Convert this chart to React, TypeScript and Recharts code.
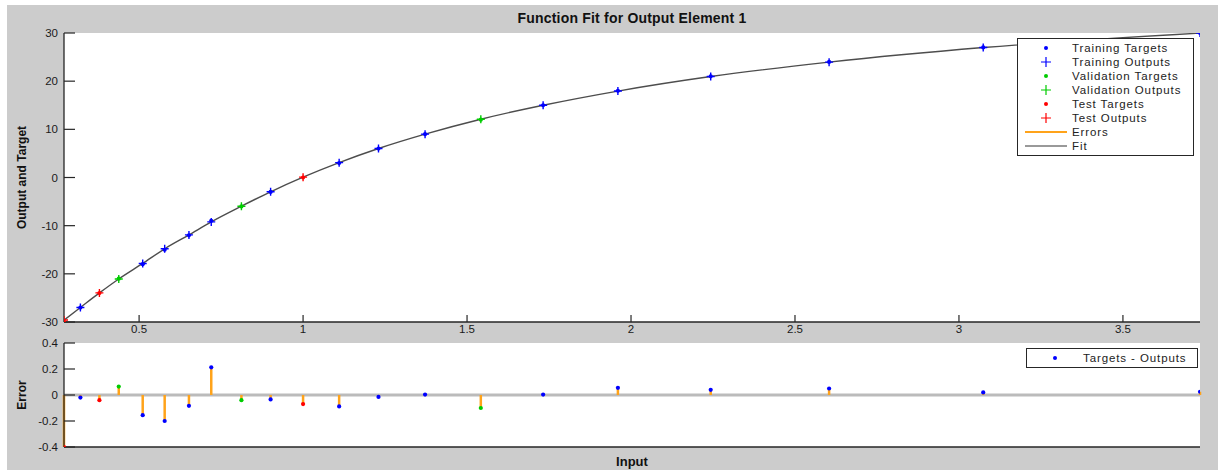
import { ComposedChart, Line, Scatter, XAxis, YAxis, ReferenceLine, Legend } from "recharts";

const inputs = [0.271, 0.321, 0.379, 0.438, 0.511, 0.578, 0.652, 0.72, 0.812, 0.901, 1.0, 1.11, 1.23, 1.372, 1.542, 1.732, 1.96, 2.243, 2.604, 3.074, 3.735];
const targets = [-30, -27, -24, -21, -18, -15, -12, -9, -6, -3, 0, 3, 6, 9, 12, 15, 18, 21, 24, 27, 30];
const errors = [-0.4, -0.02, -0.04, 0.065, -0.155, -0.2, -0.083, 0.213, -0.04, -0.034, -0.07, -0.088, -0.015, 0.003, -0.1, 0.003, 0.055, 0.04, 0.05, 0.02, 0.025];
const splits = ["test", "train", "test", "val", "train", "train", "train", "train", "val", "train", "test", "train", "train", "train", "val", "train", "train", "train", "train", "train", "train"];

const xTicks = [0.5, 1, 1.5, 2, 2.5, 3, 3.5];
const yTicksTop = [-30, -20, -10, 0, 10, 20, 30];
const yTicksErr = [-0.4, -0.2, 0, 0.2, 0.4];

const BLUE = "#0000ff";
const GREEN = "#00cc00";
const RED = "#ff0000";
const ORANGE = "#ffa31a";
const FIT = "#4d4d4d";
const FRAME = "#262626";
const FONT = "'Liberation Sans', Arial, sans-serif";

const SPLIT_COLOR: Record<string, string> = { train: BLUE, val: GREEN, test: RED };
const SPLIT_NAME: Record<string, string> = { train: "Training", val: "Validation", test: "Test" };

const rows = inputs.map((x, i) => ({
  x,
  target: targets[i],
  output: targets[i] - errors[i],
  error: errors[i],
  split: splits[i],
}));

const fitData = rows.map((r) => ({ x: r.x, y: r.output }));
const XDOM: [number, number] = [0.271, 3.735];

const tickStyle = { fontSize: 11.5, fill: "#1a1a1a", fontFamily: FONT };

const dotShape = (color: string) => (props: any) =>
  <circle cx={props.cx} cy={props.cy} r={2.1} fill={color} />;
const plusShape = (color: string) => (props: any) => {
  const { cx, cy } = props;
  return <path d={`M${cx - 4},${cy}H${cx + 4}M${cx},${cy - 4}V${cy + 4}`} stroke={color} strokeWidth={1.4} fill="none" />;
};

type LegendEntry = { label: string; kind: "dot" | "plus" | "line"; color: string };
const topLegend: LegendEntry[] = [
  { label: "Training Targets", kind: "dot", color: BLUE },
  { label: "Training Outputs", kind: "plus", color: BLUE },
  { label: "Validation Targets", kind: "dot", color: GREEN },
  { label: "Validation Outputs", kind: "plus", color: GREEN },
  { label: "Test Targets", kind: "dot", color: RED },
  { label: "Test Outputs", kind: "plus", color: RED },
  { label: "Errors", kind: "line", color: ORANGE },
  { label: "Fit", kind: "line", color: "#999999" },
];
const errLegend: LegendEntry[] = [{ label: "Targets - Outputs", kind: "dot", color: BLUE }];

function LegendBox({ entries, markerW, gap }: { entries: LegendEntry[]; markerW: number; gap: number }) {
  return (
    <div style={{ background: "#fff", border: `1.5px solid ${FRAME}`, padding: "2px 0", fontFamily: FONT, fontSize: 11.5, letterSpacing: 0.9, color: "#222", whiteSpace: "nowrap" }}>
      {entries.map((e) => (
        <div key={e.label} style={{ display: "flex", alignItems: "center", height: 14 }}>
          <svg width={markerW} height={14} style={{ marginLeft: 6, marginRight: gap }}>
            {e.kind === "dot" && <circle cx={markerW / 2} cy={7} r={2} fill={e.color} />}
            {e.kind === "plus" && <path d={`M${markerW / 2 - 5},7H${markerW / 2 + 5}M${markerW / 2},2V12`} stroke={e.color} strokeWidth={1.2} />}
            {e.kind === "line" && <line x1={1} x2={markerW - 1} y1={7} y2={7} stroke={e.color} strokeWidth={2.2} />}
          </svg>
          <span>{e.label}</span>
        </div>
      ))}
    </div>
  );
}

export default function App() {
  return (
    <div style={{ position: "absolute", left: 7, top: 5, width: 1211, height: 465, background: "#cccccc", fontFamily: FONT }}>
      <div style={{ position: "absolute", left: 57, width: 1136, top: 5, textAlign: "center", fontWeight: "bold", fontSize: 14, color: "#111", letterSpacing: 0.2 }}>
        Function Fit for Output Element 1
      </div>

      <div style={{ position: "absolute", left: 0, top: 0 }}>
        <ComposedChart width={1211} height={340} data={fitData} margin={{ top: 28, right: 18, bottom: 0, left: 0 }}>
          <rect x={57} y={28} width={1136} height={289} fill="#ffffff" />
          <XAxis
            dataKey="x"
            type="number"
            domain={XDOM}
            allowDataOverflow
            ticks={xTicks}
            interval={0}
            height={23}
            tickSize={-7}
            tickMargin={10}
            tick={tickStyle}
            axisLine={{ stroke: FRAME, strokeWidth: 1.3 }}
            tickLine={{ stroke: FRAME, strokeWidth: 1.2 }}
          />
          <XAxis
            xAxisId="top"
            orientation="top"
            type="number"
            domain={XDOM}
            allowDataOverflow
            ticks={xTicks}
            interval={0}
            height={0}
            tickSize={-7}
            tick={false}
            axisLine={{ stroke: FRAME, strokeWidth: 1.3 }}
            tickLine={{ stroke: FRAME, strokeWidth: 1.2 }}
          />
          <YAxis
            dataKey="y"
            type="number"
            domain={[-30, 30]}
            allowDataOverflow
            ticks={yTicksTop}
            interval={0}
            width={57}
            tickSize={-11}
            tickMargin={17}
            tick={tickStyle}
            axisLine={{ stroke: FRAME, strokeWidth: 1.3 }}
            tickLine={{ stroke: FRAME, strokeWidth: 1.2 }}
            label={{ value: "Output and Target", angle: -90, position: "insideLeft", offset: 15, style: { textAnchor: "middle", fontWeight: "bold", fontSize: 12, fill: "#111", fontFamily: FONT } }}
          />
          <YAxis
            yAxisId="right"
            orientation="right"
            type="number"
            domain={[-30, 30]}
            allowDataOverflow
            ticks={yTicksTop}
            interval={0}
            width={0}
            tickSize={-11}
            tick={false}
            axisLine={{ stroke: FRAME, strokeWidth: 1.3 }}
            tickLine={{ stroke: FRAME, strokeWidth: 1.2 }}
          />
          <Line dataKey="y" type="monotone" stroke={FIT} strokeWidth={1.4} dot={false} isAnimationActive={false} />
          {["train", "val", "test"].map((s) => (
            <Scatter
              key={"t" + s}
              name={`${SPLIT_NAME[s]} Targets`}
              dataKey="y"
              data={rows.filter((r) => r.split === s).map((r) => ({ x: r.x, y: r.target }))}
              shape={dotShape(SPLIT_COLOR[s])}
              isAnimationActive={false}
            />
          ))}
          {["train", "val", "test"].map((s) => (
            <Scatter
              key={"o" + s}
              name={`${SPLIT_NAME[s]} Outputs`}
              dataKey="y"
              data={rows.filter((r) => r.split === s).map((r) => ({ x: r.x, y: r.output }))}
              shape={plusShape(SPLIT_COLOR[s])}
              isAnimationActive={false}
            />
          ))}
          <Legend
            layout="horizontal"
            verticalAlign="middle"
            align="center"
            wrapperStyle={{ top: 33, left: 1010, width: 177 }}
            content={() => <LegendBox entries={topLegend} markerW={44} gap={4} />}
          />
        </ComposedChart>
      </div>

      <div style={{ position: "absolute", left: 0, top: 320 }}>
        <ComposedChart width={1211} height={145} margin={{ top: 18, right: 18, bottom: 0, left: 0 }}>
          <rect x={57} y={18} width={1136} height={104} fill="#ffffff" />
          <XAxis
            dataKey="x"
            type="number"
            domain={XDOM}
            allowDataOverflow
            ticks={xTicks}
            interval={0}
            height={23}
            tickSize={-7}
            tick={false}
            axisLine={{ stroke: FRAME, strokeWidth: 1.3 }}
            tickLine={{ stroke: FRAME, strokeWidth: 1.2 }}
            label={{ value: "Input", position: "insideBottom", offset: 4, style: { fontWeight: "bold", fontSize: 13, fill: "#111", fontFamily: FONT } }}
          />
          <XAxis
            xAxisId="top"
            orientation="top"
            type="number"
            domain={XDOM}
            allowDataOverflow
            ticks={xTicks}
            interval={0}
            height={0}
            tickSize={-7}
            tick={false}
            axisLine={{ stroke: FRAME, strokeWidth: 1.3 }}
            tickLine={{ stroke: FRAME, strokeWidth: 1.2 }}
          />
          <YAxis
            dataKey="y"
            type="number"
            domain={[-0.4, 0.4]}
            allowDataOverflow
            ticks={yTicksErr}
            interval={0}
            width={57}
            tickSize={-11}
            tickMargin={17}
            tick={tickStyle}
            axisLine={{ stroke: FRAME, strokeWidth: 1.3 }}
            tickLine={{ stroke: FRAME, strokeWidth: 1.2 }}
            label={{ value: "Error", angle: -90, position: "insideLeft", offset: 15, style: { textAnchor: "middle", fontWeight: "bold", fontSize: 12, fill: "#111", fontFamily: FONT } }}
          />
          <YAxis
            yAxisId="right"
            orientation="right"
            type="number"
            domain={[-0.4, 0.4]}
            allowDataOverflow
            ticks={yTicksErr}
            interval={0}
            width={0}
            tickSize={-11}
            tick={false}
            axisLine={{ stroke: FRAME, strokeWidth: 1.3 }}
            tickLine={{ stroke: FRAME, strokeWidth: 1.2 }}
          />
          <ReferenceLine y={0} stroke="#bbbbbb" strokeWidth={3} />
          {rows.map((r, i) => (
            <ReferenceLine
              key={"s" + i}
              segment={[{ x: r.x, y: 0 }, { x: r.x, y: r.error }]}
              stroke={ORANGE}
              strokeWidth={2.5}
            />
          ))}
          {["train", "val", "test"].map((s) => (
            <Scatter
              key={"e" + s}
              name="Targets - Outputs"
              dataKey="y"
              data={rows.filter((r) => r.split === s).map((r) => ({ x: r.x, y: r.error }))}
              shape={dotShape(SPLIT_COLOR[s])}
              isAnimationActive={false}
            />
          ))}
          <Legend
            layout="horizontal"
            verticalAlign="middle"
            align="center"
            wrapperStyle={{ top: 23, left: 1019, width: 172 }}
            content={() => <LegendBox entries={errLegend} markerW={44} gap={6} />}
          />
        </ComposedChart>
      </div>
    </div>
  );
}
